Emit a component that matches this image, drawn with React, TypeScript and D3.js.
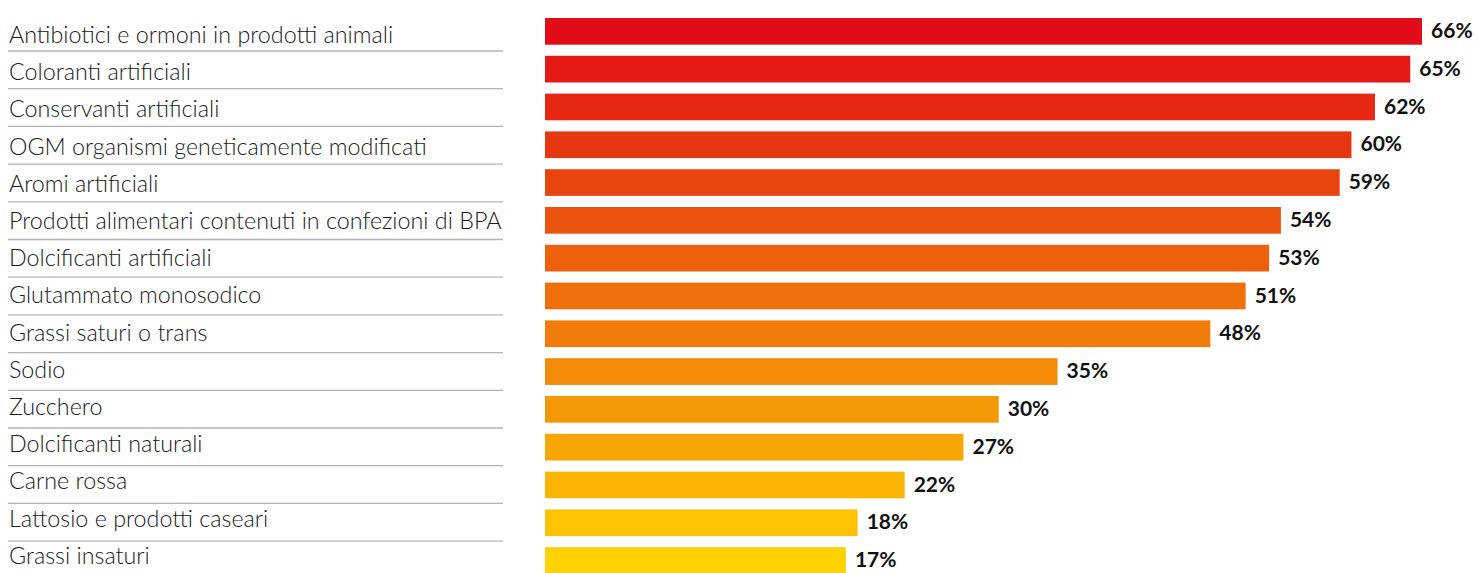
import * as d3 from "d3";

const categories = [
  "Antibiotici e ormoni in prodotti animali",
  "Coloranti artificiali",
  "Conservanti artificiali",
  "OGM organismi geneticamente modificati",
  "Aromi artificiali",
  "Prodotti alimentari contenuti in confezioni di BPA",
  "Dolcificanti artificiali",
  "Glutammato monosodico",
  "Grassi saturi o trans",
  "Sodio",
  "Zucchero",
  "Dolcificanti naturali",
  "Carne rossa",
  "Lattosio e prodotti caseari",
  "Grassi insaturi",
];

const values = [66, 65, 62, 60, 59, 54, 53, 51, 48, 35, 30, 27, 22, 18, 17];

const width = 1477;
const height = 573;
const barLeft = 545;
const rowStep = 37.8;
const labelStep = 37.2;
const barHeight = 26.7;
const top = 18;

export default function App() {
  // linear scale; the bars start a bit left of zero like the original
  const x = d3.scaleLinear().domain([0, 66]).range([646, 1422]);
  const y = (i: number) => top + i * rowStep;

  const color = d3
    .scaleLinear<string>()
    .domain([0, 4, 9, 14])
    .range(["#e20a17", "#e9460f", "#f38a08", "#fed100"])
    .interpolate(d3.interpolateRgb);

  return (
    <svg
      width={width}
      height={height}
      style={{ position: "absolute", left: 0, top: 0, display: "block" }}
    >
      <rect width={width} height={height} fill="#ffffff" />
      {categories.map((c, i) => (
        <g key={c}>
          <text
            x={9}
            y={43 + i * labelStep}
            fontFamily="Lato, sans-serif"
            fontWeight={300}
            fontSize={23.3}
            fill="#1a1a1a"
          >
            {c}
          </text>
          {i < categories.length - 1 && (
            <line
              x1={8}
              x2={503}
              y1={51 + i * 37.7}
              y2={51 + i * 37.7}
              stroke="#b4b4b4"
              strokeWidth={1.3}
            />
          )}
          <rect
            x={barLeft}
            y={y(i)}
            width={x(values[i]) - barLeft}
            height={barHeight}
            fill={color(i)}
          />
          <text
            x={x(values[i]) + 9}
            y={y(i) + 20}
            fontFamily="Lato, sans-serif"
            fontWeight={700}
            fontSize={21}
            fill="#111111"
          >
            {values[i]}%
          </text>
        </g>
      ))}
    </svg>
  );
}
